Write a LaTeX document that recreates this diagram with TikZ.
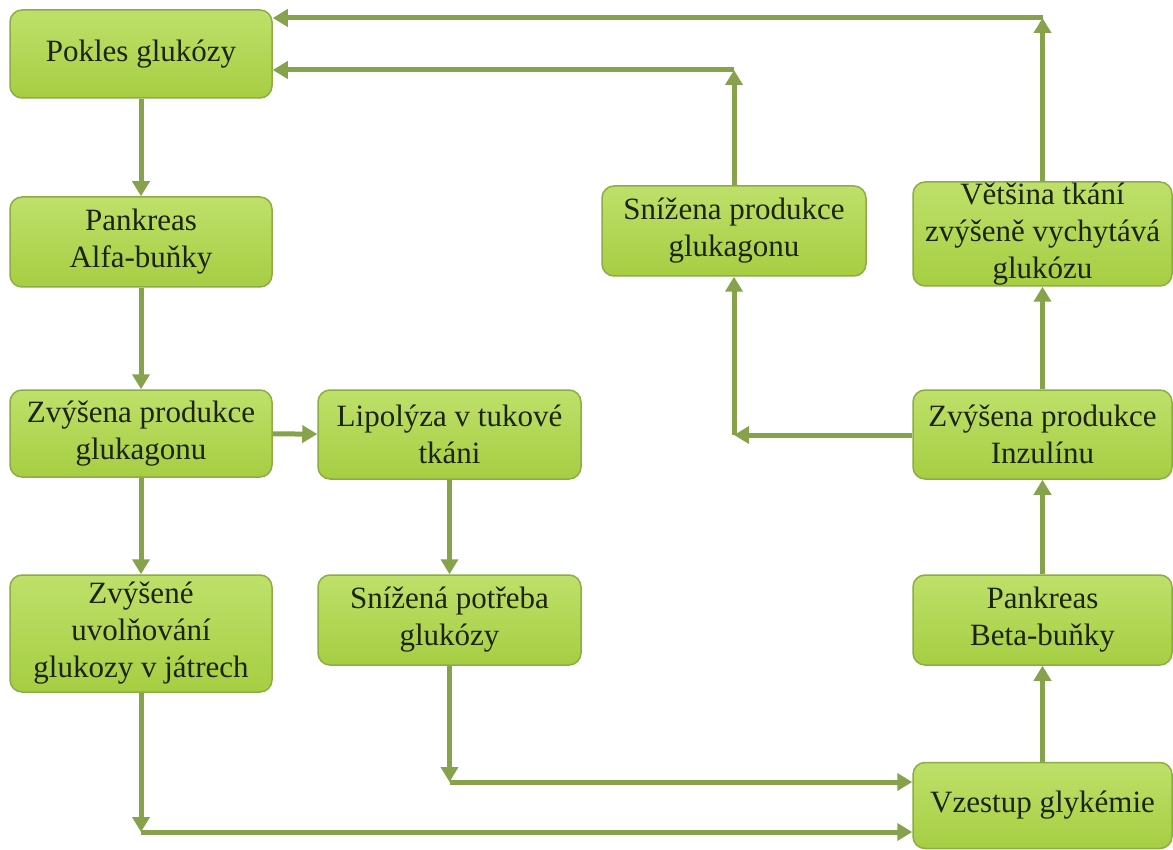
\documentclass[tikz,border=0pt]{standalone}
\usepackage{fontspec}
\setmainfont{Liberation Serif}
\usetikzlibrary{arrows.meta,shapes.misc}
\definecolor{boxtop}{RGB}{190,224,106}
\definecolor{boxbot}{RGB}{166,206,66}
\definecolor{boxline}{RGB}{140,172,70}
\definecolor{arrcol}{RGB}{134,162,74}
\definecolor{txtcol}{RGB}{28,36,14}
\tikzset{
  box/.style={draw=boxline, line width=1.5pt, rounded corners=12pt,
    top color=boxtop, bottom color=boxbot, text=txtcol,
    align=center, inner sep=0pt,
    font=\fontsize{31}{37}\selectfont},
  arr/.style={draw=arrcol, line width=5pt,
    -{Triangle[width=17pt,length=15pt]}}
}
\begin{document}
\begin{tikzpicture}[x=1pt,y=-1pt]
\useasboundingbox (0,0) rectangle (1173,850);
\fill[white] (0,0) rectangle (1173,850);
% left column
\node[box, minimum width=262pt, minimum height=88pt] (p1) at (141,54) {Pokles glukózy};
\node[box, minimum width=262pt, minimum height=90pt] (p2) at (141,242) {Pankreas\\Alfa-buňky};
\node[box, minimum width=262pt, minimum height=87pt] (p3) at (141,433.5) {Zvýšena produkce\\glukagonu};
\node[box, minimum width=262pt, minimum height=117pt] (p4) at (141,633.5) {Zvýšené\\uvolňování\\glukozy v játrech};
% middle column
\node[box, minimum width=263pt, minimum height=89pt] (l1) at (449.5,434.5) {Lipolýza v tukové\\tkáni};
\node[box, minimum width=263pt, minimum height=90pt] (l2) at (449.5,620) {Snížená potřeba\\glukózy};
\node[box, minimum width=264pt, minimum height=90pt] (r0) at (734,231) {Snížena produkce\\glukagonu};
% right column
\node[box, minimum width=259pt, minimum height=104pt] (r1) at (1042.5,234) {Většina tkání\\zvýšeně vychytává\\glukózu};
\node[box, minimum width=259pt, minimum height=89pt] (r2) at (1042.5,434.5) {Zvýšena produkce\\Inzulínu};
\node[box, minimum width=259pt, minimum height=90pt] (r3) at (1042.5,620) {Pankreas\\Beta-buňky};
\node[box, minimum width=259pt, minimum height=86pt] (r4) at (1042.5,805.5) {Vzestup glykémie};
% bend points
\coordinate (c1) at (141,832);
\coordinate (c2) at (449.5,782);
\coordinate (c3) at (734,435);
\coordinate (c4) at (734,70);
\coordinate (c5) at (1042.5,18);
% connectors
\draw[arr] (p1) -- (p2);
\draw[arr] (p2) -- (p3);
\draw[arr] (p3) -- (p4);
\draw[arr] (p3) -- (l1);
\draw[arr] (l1) -- (l2);
\draw[arr] (l2.south) -- (c2);
\draw[arr] (c2) -- (r4.west |- c2);
\draw[arr] (p4.south) -- (c1);
\draw[arr] (c1) -- (r4.west |- c1);
\draw[arr] (r4) -- (r3);
\draw[arr] (r3) -- (r2);
\draw[arr] (r2) -- (r1);
\draw[arr] (r2.west |- c3) -- (c3);
\draw[arr] (c3) -- (r0.south);
\draw[arr] (r0.north) -- (c4);
\draw[arr] (c4) -- (p1.east |- c4);
\draw[arr] (r1.north) -- (c5);
\draw[arr] (c5) -- (p1.east |- c5);
\end{tikzpicture}
\end{document}
